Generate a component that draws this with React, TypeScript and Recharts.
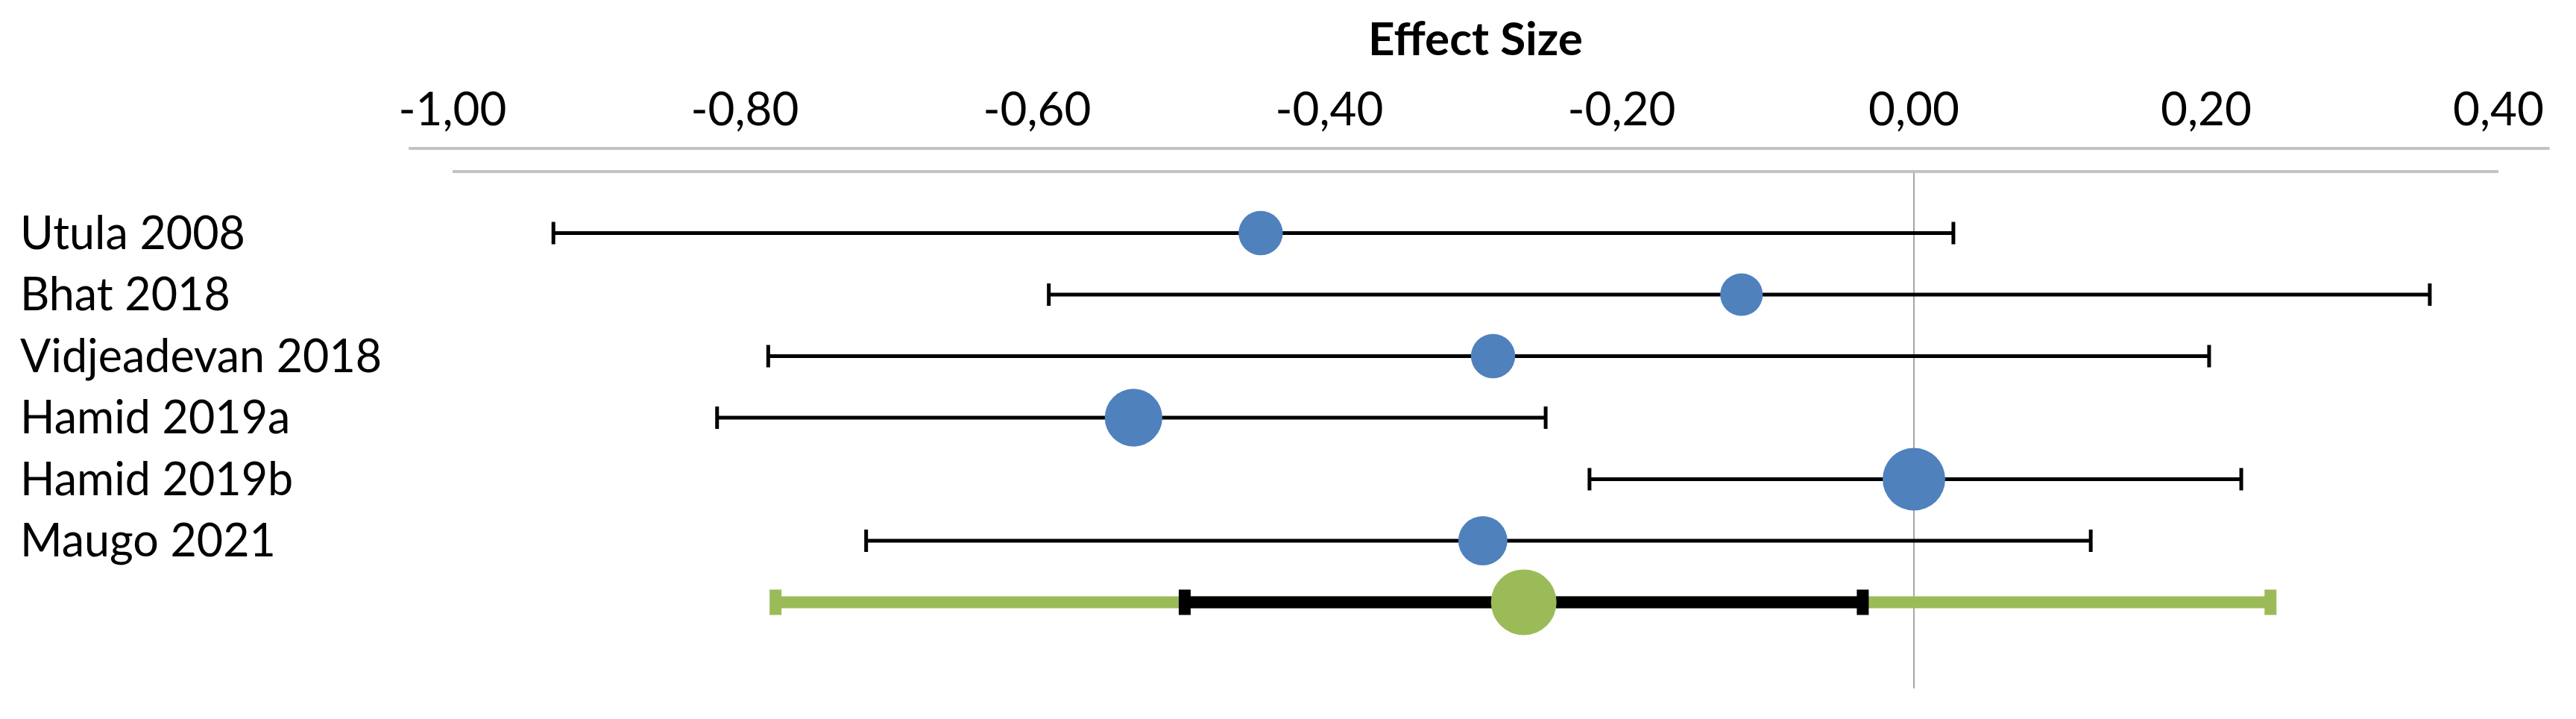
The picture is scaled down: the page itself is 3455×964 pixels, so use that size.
import { ErrorBar, Label, ReferenceLine, Scatter, ScatterChart, XAxis, YAxis, ZAxis } from "recharts"

const studies = ["Utula 2008", "Bhat 2018", "Vidjeadevan 2018", "Hamid 2019a", "Hamid 2019b", "Maugo 2021"]
const effect = [-0.447, -0.118, -0.288, -0.534, 0.0, -0.295]
const lower = [-0.931, -0.592, -0.784, -0.819, -0.222, -0.717]
const upper = [0.027, 0.353, 0.202, -0.252, 0.224, 0.121]
const weight = [13, 12, 13, 22, 26, 16]

const pooled = -0.267
const pooledCi = [-0.499, -0.035]
const pooledPi = [-0.779, 0.244]

const xTicks = [-1, -0.8, -0.6, -0.4, -0.2, 0, 0.2, 0.4]
const rowTicks = studies.map((_, i) => i + 1)

const rows = studies.map((name, i) => ({
  row: i + 1,
  name,
  est: effect[i],
  err: [effect[i] - lower[i], upper[i] - effect[i]],
  w: weight[i],
}))

const summary = [
  {
    row: studies.length + 1,
    est: pooled,
    ci: [pooled - pooledCi[0], pooledCi[1] - pooled],
    pi: [pooled - pooledPi[0], pooledPi[1] - pooled],
  },
]

const FONT = "Lato, 'Open Sans', sans-serif"

const fmt = (v: number) => v.toFixed(2).replace(".", ",")

function StudyTick(props: any) {
  const { y, payload } = props
  return (
    <text x={19} y={y} dy="0.35em" fill="#000" fontSize={61} fontFamily={FONT} textAnchor="start">
      {studies[payload.value - 1]}
    </text>
  )
}

function PooledDot(props: any) {
  return <circle cx={props.cx} cy={props.cy} r={44} fill="#9bbb59" />
}

export default function App() {
  return (
    <div style={{ width: 3430, height: 940, fontFamily: FONT }}>
      <ScatterChart width={3430} height={940} margin={{ top: 0, right: 87, left: 0, bottom: 25 }}>
        <XAxis
          type="number"
          dataKey="est"
          orientation="top"
          domain={[-1, 0.4]}
          ticks={xTicks}
          tickFormatter={fmt}
          interval={0}
          height={222}
          tickLine={false}
          tickMargin={56}
          axisLine={{ stroke: "#c3c3c3", strokeWidth: 4 }}
          tick={{ fill: "#000", fontSize: 62, fontFamily: FONT }}
        >
          <Label
            value="Effect Size"
            position="insideTop"
            offset={22}
            fill="#000"
            fontSize={62}
            fontWeight="bold"
            fontFamily={FONT}
          />
        </XAxis>
        <YAxis
          type="number"
          dataKey="row"
          domain={[0, 8.4]}
          reversed
          ticks={rowTicks}
          interval={0}
          width={599}
          axisLine={false}
          tickLine={false}
          tick={<StudyTick />}
        />
        <ZAxis type="number" dataKey="w" domain={[0, 26]} range={[0, 5542]} />
        <ReferenceLine
          ifOverflow="visible"
          segment={[
            { x: -1.03, y: -0.376 },
            { x: 0.435, y: -0.376 },
          ]}
          stroke="#c3c3c3"
          strokeWidth={4}
        />
        <ReferenceLine x={0} stroke="#a6a6a6" strokeWidth={2} />
        <Scatter data={rows} fill="#4f81bd" isAnimationActive={false}>
          <ErrorBar dataKey="err" direction="x" width={15} stroke="#000" strokeWidth={5} />
        </Scatter>
        <Scatter data={summary} fill="#9bbb59" shape={<PooledDot />} isAnimationActive={false}>
          <ErrorBar dataKey="pi" direction="x" width={17} stroke="#9bbb59" strokeWidth={16} />
          <ErrorBar dataKey="ci" direction="x" width={17} stroke="#000" strokeWidth={16} />
        </Scatter>
      </ScatterChart>
    </div>
  )
}
